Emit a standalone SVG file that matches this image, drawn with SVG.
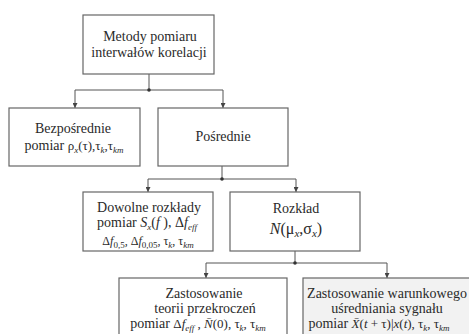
<svg xmlns="http://www.w3.org/2000/svg" width="469" height="334" viewBox="0 0 469 334">
<style>
.box{fill:#fff;stroke:#666;stroke-width:1.2}
.gray{fill:#f2f2f2}
.t{font-family:'Liberation Serif','Times New Roman',serif;font-size:14px;fill:#2a2a2a;text-anchor:middle}
.m{font-size:13px}
.s{font-size:9px;font-style:italic}
.i{font-style:italic}
.sm{font-size:12px}
.ln{fill:none;stroke:#555;stroke-width:1}
.dot{fill:#333}
</style>
<defs>
<marker id="ah" viewBox="0 0 6 6" refX="6" refY="3" markerWidth="5" markerHeight="5" orient="auto" markerUnits="userSpaceOnUse">
<path d="M0,0 L6,3 L0,6 Z" fill="#444"/>
</marker>
</defs>
<rect x="0" y="0" width="469" height="334" fill="#fff"/>
<g id="connectors">
<path class="ln" d="M149,74 V90"/>
<path class="ln" d="M75,90 H223"/>
<path class="ln" d="M75,90 V108" marker-end="url(#ah)"/>
<path class="ln" d="M223,90 V108" marker-end="url(#ah)"/>
<circle class="dot" cx="149" cy="90" r="1.8"/>
<path class="ln" d="M222,166 V179"/>
<path class="ln" d="M148,179 H296"/>
<path class="ln" d="M148,179 V192" marker-end="url(#ah)"/>
<path class="ln" d="M296,179 V192" marker-end="url(#ah)"/>
<circle class="dot" cx="222" cy="179" r="1.8"/>
<path class="ln" d="M295,251 V263"/>
<path class="ln" d="M206,263 H387"/>
<path class="ln" d="M206,263 V278" marker-end="url(#ah)"/>
<path class="ln" d="M387,263 V278" marker-end="url(#ah)"/>
<circle class="dot" cx="295" cy="263" r="1.8"/>
</g>
<g font-family="Liberation Serif, Times New Roman, serif">
<g id="n-root">
<rect class="box" x="83" y="15" width="131" height="59"/>
<text class="t" x="150" y="41">Metody pomiaru</text>
<text class="t" x="149" y="57">interwałów korelacji</text>
</g>
<g id="n-bezposrednie">
<rect class="box" x="9" y="108" width="131" height="58"/>
<text class="t" x="73" y="133">Bezpośrednie</text>
<text class="t" x="74" y="150">pomiar  <tspan class="m">ρ</tspan><tspan class="s" dy="3">x</tspan><tspan class="m" dy="-3">(τ),τ</tspan><tspan class="s" dy="3">k</tspan><tspan class="m" dy="-3">,τ</tspan><tspan class="s" dy="3">km</tspan></text>
</g>
<g id="n-posrednie">
<rect class="box" x="158" y="108" width="130" height="58"/>
<text class="t" x="223" y="141">Pośrednie</text>
</g>
<g id="n-dowolne">
<rect class="box" x="83" y="192" width="130" height="59"/>
<text class="t" x="149" y="212">Dowolne rozkłady</text>
<text class="t" x="147" y="227">pomiar <tspan class="i">S</tspan><tspan class="s" dy="3">x</tspan><tspan dy="-3">(</tspan><tspan class="i">f</tspan><tspan> ), Δ</tspan><tspan class="i">f</tspan><tspan class="s" dy="3">eff</tspan></text>
<text class="t sm" x="148" y="245">Δ<tspan class="i">f</tspan><tspan class="s" style="font-style:normal" dy="3">0,5</tspan><tspan dy="-3">, Δ</tspan><tspan class="i">f</tspan><tspan class="s" style="font-style:normal" dy="3">0,05</tspan><tspan dy="-3">, τ</tspan><tspan class="s" dy="3">k</tspan><tspan dy="-3">, τ</tspan><tspan class="s" dy="3">km</tspan></text>
</g>
<g id="n-rozklad">
<rect class="box" x="230" y="192" width="130" height="59"/>
<text class="t" x="296" y="213">Rozkład</text>
<text class="t" x="296" y="234" style="font-size:16px"><tspan class="i">N</tspan>(μ<tspan class="s" style="font-size:11px" dy="3">x</tspan><tspan dy="-3">,σ</tspan><tspan class="s" style="font-size:11px" dy="3">x</tspan><tspan dy="-3">)</tspan></text>
</g>
<g id="n-teorii">
<rect class="box" x="119" y="278" width="168" height="60"/>
<text class="t" x="204" y="298">Zastosowanie</text>
<text class="t" x="205" y="313">teorii przekroczeń</text>
<text class="t" x="198" y="328">pomiar  <tspan class="m">Δ</tspan><tspan class="m i">f</tspan><tspan class="s" dy="3">eff</tspan><tspan class="m" dy="-3"> , </tspan><tspan class="m i">N̄</tspan><tspan class="m">(0), τ</tspan><tspan class="s" dy="3">k</tspan><tspan class="m" dy="-3">, τ</tspan><tspan class="s" dy="3">km</tspan></text>
</g>
<g id="n-warunkowego">
<rect class="box gray" x="303" y="278" width="170" height="60"/>
<text class="t" x="387" y="298">Zastosowanie warunkowego</text>
<text class="t" x="387" y="313">uśredniania sygnału</text>
<text class="t" x="379" y="328">pomiar  <tspan class="m i">X̄</tspan><tspan class="m">(</tspan><tspan class="m i">t</tspan><tspan class="m"> + τ)|</tspan><tspan class="m i">x</tspan><tspan class="m">(</tspan><tspan class="m i">t</tspan><tspan class="m">), τ</tspan><tspan class="s" dy="3">k</tspan><tspan class="m" dy="-3">, τ</tspan><tspan class="s" dy="3">km</tspan></text>
</g>
</g>
</svg>
